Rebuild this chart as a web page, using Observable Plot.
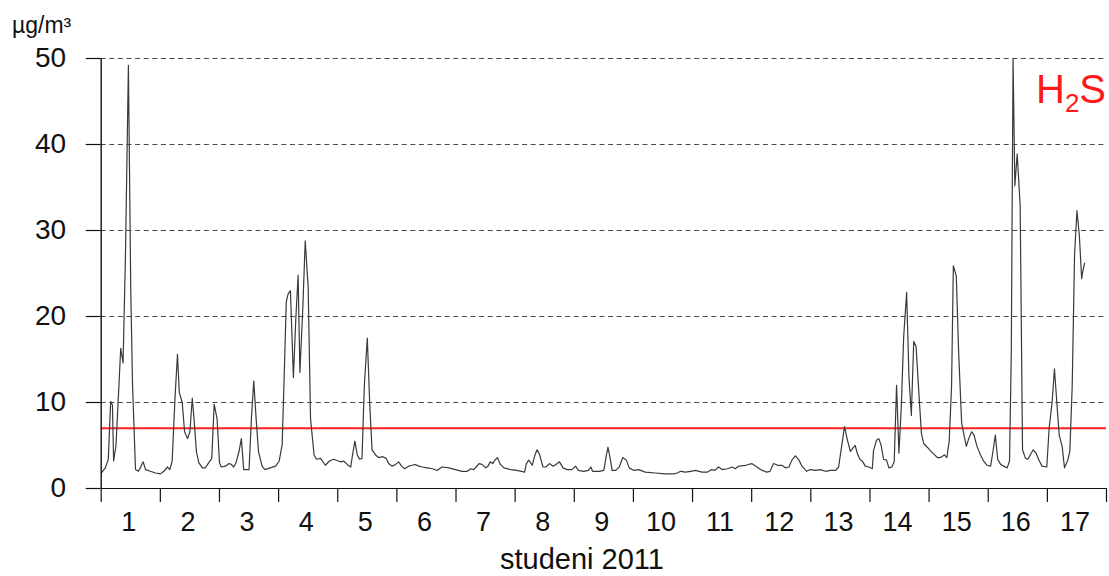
<!DOCTYPE html>
<html>
<head>
<meta charset="utf-8">
<script src="https://cdn.jsdelivr.net/npm/d3@7"></script>
<script src="https://cdn.jsdelivr.net/npm/@observablehq/plot@0.6"></script>
<style>
  html, body { margin: 0; padding: 0; background: #fff; }
  #chart svg { display: block; }
</style>
</head>
<body>
<div id="chart"></div>
<script>
// Days since start of November 2011 (fractional) and H2S concentration (µg/m³)
const days = [
  0.00,0.07,0.12,0.16,0.19,0.21,0.25,0.30,0.33,0.37,0.41,0.46,0.50,0.53,0.58,0.63,0.66,0.71,0.75,0.83,0.92,
  1.00,1.06,1.12,1.16,1.20,1.25,1.29,1.32,1.37,1.41,1.46,1.50,1.54,1.57,1.61,1.65,1.71,1.76,1.82,1.87,1.91,1.96,
  2.00,2.03,2.10,2.16,2.20,2.24,2.28,2.33,2.37,2.41,2.45,2.50,2.54,2.58,2.62,2.66,2.72,2.77,2.86,2.95,
  3.01,3.06,3.09,3.13,3.16,3.20,3.25,3.29,3.33,3.36,3.41,3.45,3.50,3.54,3.60,3.64,3.71,3.79,3.86,3.93,
  4.01,4.06,4.10,4.16,4.22,4.25,4.29,4.33,4.37,4.41,4.45,4.50,4.54,4.58,4.64,4.69,4.76,4.82,4.86,4.92,4.98,
  5.03,5.08,5.13,5.20,5.26,5.31,5.37,5.43,5.51,5.60,5.68,5.76,5.88,5.99,
  6.10,6.19,6.25,6.30,6.34,6.39,6.44,6.50,6.54,6.58,6.62,6.66,6.70,6.75,6.81,6.92,
  7.03,7.16,7.19,7.23,7.29,7.33,7.37,7.41,7.47,7.52,7.58,7.64,7.69,7.75,7.81,7.88,7.96,
  8.02,8.07,8.16,8.24,8.28,8.31,8.42,8.50,8.54,8.57,8.61,8.64,8.70,8.76,8.82,8.88,8.93,
  9.01,9.09,9.20,9.37,9.54,9.68,9.74,9.80,9.88,9.97,
  10.05,10.16,10.25,10.32,10.38,10.44,10.50,10.59,10.67,10.72,10.78,10.90,
  11.00,11.07,11.15,11.25,11.31,11.37,11.44,11.51,11.57,11.63,11.68,11.74,11.80,11.85,11.93,11.99,
  12.08,12.16,12.25,12.33,12.42,12.47,12.51,12.57,12.62,12.67,12.71,12.75,12.79,12.83,12.88,12.92,12.98,
  13.04,13.06,13.11,13.15,13.19,13.23,13.28,13.32,13.37,13.41,13.45,13.49,13.53,13.57,13.62,13.66,13.70,13.74,13.78,13.83,13.87,13.91,13.97,
  14.02,14.08,14.14,14.19,14.26,14.30,14.34,14.38,14.41,14.46,14.50,14.55,14.59,14.63,14.67,14.72,14.76,14.81,14.87,14.92,14.98,
  15.04,15.08,15.12,15.16,15.21,15.26,15.32,15.36,15.39,15.42,15.45,15.49,15.54,15.58,15.63,15.67,15.71,15.76,15.81,15.85,15.91,15.99,
  16.03,16.08,16.12,16.16,16.20,16.25,16.29,16.34,16.38,16.42,16.46,16.50,16.54,16.58,16.60,16.63
];
const h2s = [
  1.8,2.4,3.4,10.1,9.7,3.2,5.0,12.0,16.3,14.6,27.0,49.2,23.0,12.0,2.2,2.0,2.4,3.1,2.2,2.0,1.8,
  1.7,2.0,2.5,2.2,3.2,10.8,15.6,11.2,10.0,6.6,5.8,6.6,10.5,8.1,4.3,3.0,2.4,2.4,3.0,3.5,9.8,8.1,
  3.0,2.5,2.6,2.9,2.8,2.5,3.0,4.3,5.8,2.2,2.2,2.2,8.1,12.5,8.1,4.3,2.6,2.2,2.4,2.6,
  3.2,5.1,12.0,21.7,22.6,23.0,12.9,19.6,24.8,13.5,21.1,28.8,23.4,8.1,3.9,3.4,3.5,2.7,3.2,3.4,
  3.2,3.1,3.2,2.8,2.5,3.9,5.5,3.9,3.4,3.5,12.0,17.5,10.0,4.5,3.9,3.6,3.7,3.5,2.9,2.6,2.8,
  3.1,2.6,2.3,2.6,2.7,2.8,2.6,2.5,2.4,2.3,2.1,2.5,2.4,2.2,
  2.0,2.0,2.3,2.2,2.5,2.9,2.8,2.4,2.6,3.1,2.9,3.3,3.6,2.8,2.4,2.2,
  2.1,1.9,2.9,3.3,2.7,3.8,4.5,4.0,2.5,2.5,2.9,2.6,2.8,3.1,2.4,2.2,2.2,
  2.6,2.1,2.0,2.1,2.5,2.0,2.0,2.1,3.8,4.8,3.4,2.1,2.1,2.5,3.6,3.3,2.4,
  2.1,2.2,1.9,1.8,1.7,1.7,1.8,2.0,1.9,2.0,
  2.1,1.9,1.9,2.2,2.1,2.5,2.2,2.3,2.5,2.3,2.6,2.7,
  2.9,2.6,2.2,1.9,2.0,2.9,2.7,2.7,2.4,2.5,3.3,3.8,3.3,2.6,2.0,2.2,
  2.1,2.2,2.0,2.1,2.1,2.5,4.4,7.2,5.6,4.3,4.7,5.0,4.0,3.4,3.1,2.6,2.5,
  2.3,4.4,5.6,5.8,5.0,3.4,3.3,2.4,2.5,3.1,12.0,4.1,9.5,17.6,22.8,12.9,8.5,17.1,16.5,10.8,6.4,5.2,4.8,
  4.4,4.0,3.6,3.6,3.9,3.6,5.5,11.9,25.9,24.7,15.8,7.7,6.2,4.9,5.8,6.6,6.2,4.9,3.9,3.2,2.7,
  2.6,4.3,6.2,3.4,2.8,2.6,2.4,3.2,15.8,50.0,35.2,38.9,32.9,4.5,3.5,3.4,3.9,4.5,4.1,3.4,2.6,2.5,
  7.0,10.0,13.9,10.0,6.2,4.9,2.4,3.2,4.3,11.9,27.2,32.3,29.5,24.4,25.3,26.2
];
const yTicks = [0, 10, 20, 30, 40, 50];
const gridValues = [10, 20, 30, 40, 50];
const dayTicks = d3.range(0, 18);          // day boundaries 0..17
const dayLabels = d3.range(1, 18);         // labels 1..17, centred within each day
const limitValue = [7];                    // limit line
const unitLabel = "µg/m³";
const xTitle = "studeni 2011";

const data = days.map((d, i) => ({day: d, value: h2s[i]}));
const FONT = "'Liberation Sans', Arial, Helvetica, sans-serif";

const chart = Plot.plot({
  width: 1109,
  height: 576,
  marginLeft: 100.7,
  marginRight: 3,
  marginTop: 58,
  marginBottom: 88,
  style: {fontFamily: FONT, background: "#fff", color: "#111"},
  x: {domain: [0, 17], axis: null},
  y: {domain: [0, 50], axis: null},
  marks: [
    Plot.ruleY(gridValues, {stroke: "#4a4a4a", strokeWidth: 1, strokeDasharray: "5,3.6"}),
    Plot.ruleY(limitValue, {stroke: "#ff1f1f", strokeWidth: 2}),
    Plot.line(data, {x: "day", y: "value", stroke: "#3a3a3a", strokeWidth: 1.2}),
    Plot.axisY({ticks: yTicks, label: null, tickSize: 15, tickPadding: 20, fontSize: 28, stroke: "#111", strokeWidth: 1.2, tickFormat: d => String(d)}),
    Plot.axisX({ticks: dayTicks, label: null, tickSize: 14, tickFormat: () => "", stroke: "#111", strokeWidth: 1.2}),
    Plot.axisX({ticks: dayLabels.map(d => d - 0.5), label: null, tickSize: 0, tickPadding: 23, fontSize: 27, tickFormat: d => String(Math.round(d + 0.5)), dx: -2}),
    Plot.ruleX([0], {stroke: "#111", strokeWidth: 1.4}),
    Plot.ruleY([0], {stroke: "#111", strokeWidth: 1.2})
  ]
});

const svg = d3.select(chart);
svg.append("text")
  .attr("x", 12).attr("y", 33)
  .attr("text-anchor", "start")
  .attr("font-family", FONT).attr("font-size", 23).attr("fill", "#111")
  .text(unitLabel);
svg.append("text")
  .attr("x", 582).attr("y", 569)
  .attr("text-anchor", "middle")
  .attr("font-family", FONT).attr("font-size", 29).attr("fill", "#111")
  .text(xTitle);
const h = svg.append("text")
  .attr("x", 1036).attr("y", 103)
  .attr("text-anchor", "start")
  .attr("font-family", FONT).attr("font-size", 40).attr("fill", "#ff1a1a");
h.append("tspan").text("H");
h.append("tspan").attr("font-size", 26).attr("dy", 9).text("2");
h.append("tspan").attr("dy", -9).text("S");

document.getElementById("chart").appendChild(chart);
</script>
</body>
</html>
